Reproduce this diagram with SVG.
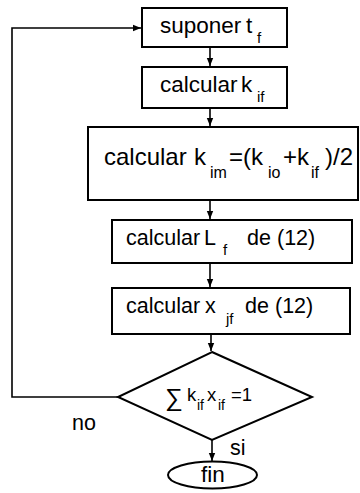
<svg xmlns="http://www.w3.org/2000/svg" width="360" height="493" viewBox="0 0 360 493">
<defs>
<marker id="ah" markerWidth="9" markerHeight="8" refX="8" refY="4" orient="auto" markerUnits="userSpaceOnUse">
<path d="M0,0.8 L8,4 L0,7.2 Z" fill="#000"/>
</marker>
<style>
.box{fill:#fff;stroke:#000;stroke-width:2}
.ln{fill:none;stroke:#000;stroke-width:1.6}
text{font-family:"Liberation Sans",Arial,sans-serif;fill:#000}
.t{font-size:21.5px}
.t1{font-size:22.5px}
.t3{font-size:24px}
.s{font-size:15px}
.s3{font-size:16px}
.d{font-size:18.5px}
.ds{font-size:14px}
</style>
</defs>
<g id="connectors">
<line class="ln" x1="210" y1="47" x2="210" y2="66" marker-end="url(#ah)"/>
<line class="ln" x1="210" y1="108" x2="210" y2="126" marker-end="url(#ah)"/>
<line class="ln" x1="210" y1="200" x2="210" y2="219" marker-end="url(#ah)"/>
<line class="ln" x1="210" y1="263" x2="210" y2="287" marker-end="url(#ah)"/>
<line class="ln" x1="211" y1="334" x2="211" y2="351" marker-end="url(#ah)"/>
<line class="ln" x1="212" y1="440" x2="212" y2="461" marker-end="url(#ah)"/>
<polyline class="ln" points="118,397 12,397 12,28 141,28" marker-end="url(#ah)"/>
<text class="t" x="72" y="430">no</text>
<text class="t" x="230" y="455">si</text>
</g>
<g id="n1">
<rect class="box" x="142" y="8" width="145" height="39"/>
<text class="t1" y="33"><tspan x="160">suponer</tspan><tspan x="246">t</tspan><tspan class="s" x="257" y="43">f</tspan></text>
</g>
<g id="n2">
<rect class="box" x="142" y="67" width="145" height="41"/>
<text class="t1" y="92"><tspan x="160">calcular</tspan><tspan x="241">k</tspan><tspan class="s" x="257" y="102">if</tspan></text>
</g>
<g id="n3">
<rect class="box" x="88" y="127" width="270" height="73"/>
<text class="t3" y="165"><tspan x="104">calcular</tspan><tspan x="194">k</tspan><tspan class="s3" x="210" y="178">im</tspan><tspan x="229" y="165">=(k</tspan><tspan class="s3" x="268" y="178">io</tspan><tspan x="283" y="165">+k</tspan><tspan class="s3" x="311" y="178">if</tspan><tspan x="325" y="165">)/2</tspan></text>
</g>
<g id="n4">
<rect class="box" x="112" y="220" width="240" height="43"/>
<text class="t" y="245"><tspan x="126">calcular</tspan><tspan x="204">L</tspan><tspan class="s" x="223" y="255">f</tspan><tspan x="247" y="245">de</tspan><tspan x="277">(12)</tspan></text>
</g>
<g id="n5">
<rect class="box" x="112" y="288" width="238" height="46"/>
<text class="t" y="313"><tspan x="126">calcular</tspan><tspan x="205">x</tspan><tspan class="s" x="226" y="324">jf</tspan><tspan x="245" y="313">de</tspan><tspan x="275">(12)</tspan></text>
</g>
<g id="n6">
<polygon class="box" points="212,352 312,397 212,440 118,397"/>
<text class="d" y="402"><tspan font-size="25" x="165" y="406">∑</tspan><tspan x="187" y="401">k</tspan><tspan class="ds" x="197" y="410">if</tspan><tspan x="207" y="401">x</tspan><tspan class="ds" x="218" y="410">if</tspan><tspan x="231" y="401">=1</tspan></text>
</g>
<g id="n7">
<ellipse class="box" cx="212.5" cy="475" rx="44.5" ry="13.5"/>
<text class="t1" x="213" y="482" text-anchor="middle">fin</text>
</g>
</svg>
